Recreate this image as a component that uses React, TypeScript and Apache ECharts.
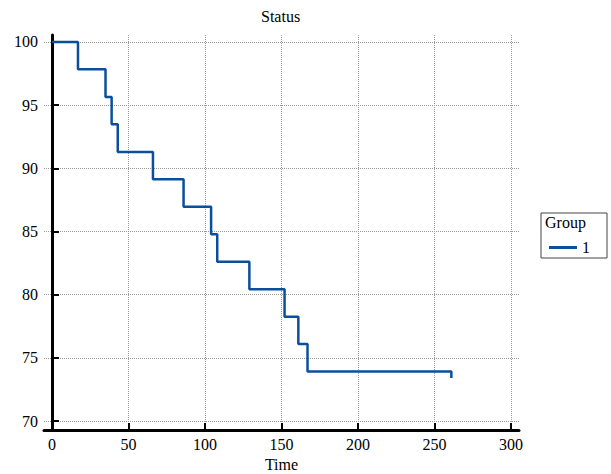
import React, { useEffect, useRef } from "react";
import * as echarts from "echarts";

const times = [0, 17, 35, 39, 43, 66, 86, 104, 108, 129, 152, 161, 167, 261, 261];
const survival = [100, 97.83, 95.65, 93.48, 91.3, 89.13, 86.96, 84.78, 82.61, 80.43, 78.26, 76.09, 73.91, 73.91, 73.4];
const seriesName = "1";
const legendTitle = "Group";
const chartTitle = "Status";
const xName = "Time";

const FONT = "'Liberation Serif', 'Times New Roman', Times, serif";

export default function App() {
  const ref = useRef<HTMLDivElement>(null);
  useEffect(() => {
    if (!ref.current) return;
    const chart = echarts.init(ref.current, undefined, { renderer: "svg" });
    const data = times.map((t, i) => [t, survival[i]]);
    const lab = { showMinLabel: false, showMaxLabel: false, margin: 6, fontFamily: FONT, fontSize: 16, color: "#000" };
    chart.setOption({
      animation: false,
      backgroundColor: "#fff",
      textStyle: { fontFamily: FONT },
      title: {
        text: chartTitle,
        left: 261,
        top: 8,
        padding: 0,
        textStyle: { fontFamily: FONT, fontSize: 16, fontWeight: "normal", color: "#000" },
      },
      grid: { left: 44, right: 92, top: 35, bottom: 44, containLabel: false, outerBoundsMode: "none" },
      xAxis: {
        type: "value",
        min: -5.2,
        max: 305.2,
        name: xName,
        nameLocation: "middle",
        nameGap: 26,
        nameTextStyle: { fontFamily: FONT, fontSize: 16, color: "#000" },
        axisLine: { show: true, lineStyle: { color: "#000", width: 3 } },
        axisTick: { show: true, inside: true, length: 7, lineStyle: { color: "#000", width: 2 } },
        axisLabel: lab,
        splitLine: { show: true, showMinLine: false, showMaxLine: false, lineStyle: { color: "#999", type: [1, 1], width: 1 } },
      },
      yAxis: {
        type: "value",
        min: 69.29,
        max: 100.55,
        axisLine: { show: true, lineStyle: { color: "#000", width: 3 } },
        axisTick: { show: true, inside: true, length: 7, lineStyle: { color: "#000", width: 2 } },
        axisLabel: lab,
        splitLine: { show: true, showMinLine: false, showMaxLine: false, lineStyle: { color: "#999", type: [1, 1], width: 1 } },
      },
      legend: {
        left: 549,
        top: 239.5,
        padding: 0,
        icon: "rect",
        itemWidth: 28,
        itemHeight: 3,
        itemGap: 5,
        textStyle: { fontFamily: FONT, fontSize: 16, color: "#000" },
        data: [seriesName],
      },
      graphic: [
        {
          type: "rect",
          shape: { x: 541, y: 213, width: 66, height: 45 },
          style: { fill: "none", stroke: "#444", lineWidth: 1 },
          z: 10,
        },
        {
          type: "text",
          x: 545,
          y: 214,
          style: { text: legendTitle, font: `16px ${FONT}`, fill: "#000", textVerticalAlign: "top" },
          z: 10,
        },
      ],
      series: [
        {
          name: seriesName,
          type: "line",
          step: "end",
          data,
          symbol: "none",
          showSymbol: false,
          lineStyle: { color: "#0b4f9c", width: 2.5 },
          itemStyle: { color: "#0b4f9c" },
        },
      ],
    });
    return () => chart.dispose();
  }, []);
  return <div ref={ref} style={{ position: "fixed", left: 0, top: 0, width: 611, height: 474 }} />;
}
